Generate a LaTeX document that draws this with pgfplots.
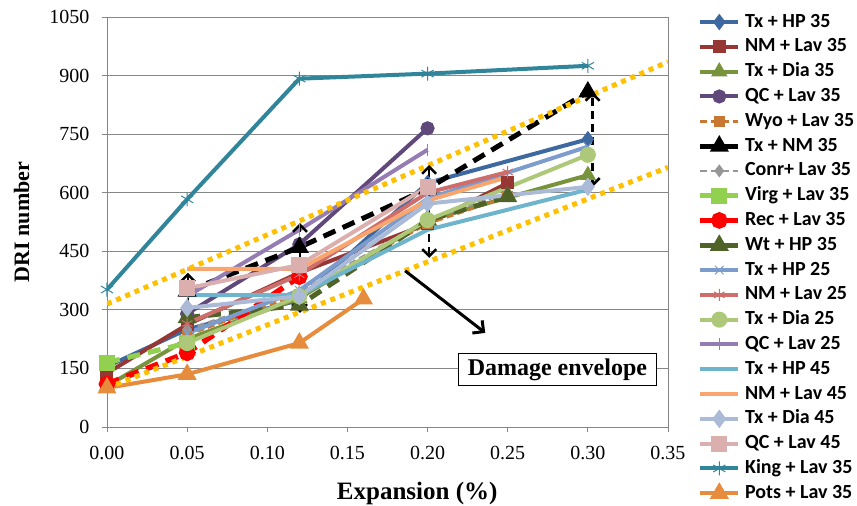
\documentclass[border=0pt]{standalone}
\usepackage{fontspec}
\setmainfont{Liberation Serif}
\newfontfamily\legfont{Carlito}
\usepackage{pgfplots}
\pgfplotsset{compat=1.18}
\usetikzlibrary{arrows.meta}
\definecolor{cA}{RGB}{61,105,160}
\definecolor{cB}{RGB}{150,55,52}
\definecolor{cC}{RGB}{119,147,60}
\definecolor{cD}{RGB}{96,73,122}
\definecolor{cE}{RGB}{200,120,50}
\definecolor{cG}{RGB}{150,150,150}
\definecolor{cH}{RGB}{146,208,80}
\definecolor{cI}{RGB}{255,0,0}
\definecolor{cJ}{RGB}{79,98,40}
\definecolor{cK}{RGB}{124,156,206}
\definecolor{cL}{RGB}{205,110,108}
\definecolor{cM}{RGB}{172,200,120}
\definecolor{cN}{RGB}{149,125,180}
\definecolor{cO}{RGB}{110,180,205}
\definecolor{cP}{RGB}{248,165,110}
\definecolor{cQ}{RGB}{170,186,215}
\definecolor{cR}{RGB}{220,175,175}
\definecolor{cS}{RGB}{49,133,155}
\definecolor{cT}{RGB}{230,140,60}
\definecolor{envy}{RGB}{255,192,0}
\definecolor{frame}{RGB}{134,134,134}
\begin{document}
\begin{tikzpicture}
\path[use as bounding box] (-107pt,-79pt) rectangle (750pt,427pt);
\begin{axis}[
  width=561pt, height=410pt, scale only axis,
  xmin=0, xmax=0.35, ymin=0, ymax=1050,
  xtick={0,0.05,0.1,0.15,0.2,0.25,0.3,0.35},
  xticklabels={0.00,0.05,0.10,0.15,0.20,0.25,0.30,0.35},
  ytick={0,150,300,450,600,750,900,1050},
  /pgf/number format/assume math mode=true,
  /pgf/number format/1000 sep={},
  tick label style={font=\fontsize{20}{22}\selectfont},
  xticklabel style={yshift=-11pt},
  yticklabel style={xshift=-9pt},
  tick align=outside, xtick pos=left, ytick pos=left,
  major tick length=5pt,
  every tick/.style={frame, line width=0.8pt},
  axis line style={frame, line width=0.8pt},
  ymajorgrids, major grid style={frame, line width=0.8pt},
  xlabel={\textbf{Expansion (\%)}},
  ylabel={\textbf{DRI number}},
  label style={font=\fontsize{22}{24}\selectfont},
  xlabel style={at={(axis description cs:0.553,-0.161)}, anchor=center, font=\fontsize{25}{27}\selectfont},
  ylabel style={at={(axis description cs:-0.152,0.5)}, anchor=center},
  legend style={at={(axis description cs:1.047,1.015)}, anchor=north west,
    draw=none, fill=none, font=\legfont\bfseries\fontsize{20}{22}\selectfont,
    nodes={inner sep=0pt, text height=14pt, text depth=4pt},
    row sep=6.8pt, column sep=4pt},
  legend cell align=left,
  legend image code/.code={\draw[mark repeat=2,mark phase=2] plot coordinates {(0pt,0pt)(19pt,0pt)(38pt,0pt)};},
  every axis plot/.append style={line width=4pt, mark options={solid}},
  legsolid/.style={legend image code/.code={\draw[solid,mark repeat=2,mark phase=2] plot coordinates {(0pt,0pt)(19pt,0pt)(38pt,0pt)};}},
]
\addplot[cA, mark=diamond*, mark size=5pt] coordinates {(0,155)(0.05,250)(0.12,325)(0.2,625)(0.3,737)};
\addlegendentry{Tx + HP 35}
\addplot[cB, mark=square*, mark size=4.5pt] coordinates {(0,138)(0.05,262)(0.12,395)(0.2,520)(0.25,625)};
\addlegendentry{NM + Lav 35}
\addplot[cC, mark=triangle*, mark size=5.5pt] coordinates {(0,105)(0.05,225)(0.12,330)(0.2,530)(0.3,645)};
\addlegendentry{Tx + Dia 35}
\addplot[cD, mark=*, mark size=5pt] coordinates {(0.05,290)(0.12,468)(0.2,765)};
\addlegendentry{QC + Lav 35}
\addplot[cE, line width=2.5pt, dash pattern=on 7pt off 4pt, mark=square*, mark size=4pt] coordinates {(0.05,235)(0.12,340)(0.2,520)(0.25,590)};
\addlegendentry{Wyo + Lav 35}
\addplot[black, legsolid, line width=5pt, dash pattern=on 13pt off 8pt, mark=triangle*, mark size=6pt] coordinates {(0.05,348)(0.12,460)(0.2,610)(0.3,858)};
\addlegendentry{Tx + NM 35}
\addplot[cG, line width=2.5pt, dash pattern=on 7pt off 4pt, mark=diamond*, mark size=4.5pt] coordinates {(0.05,250)(0.12,345)(0.2,530)(0.25,600)};
\addlegendentry{Conr+ Lav 35}
\addplot[cH, legsolid, line width=5pt, dash pattern=on 13pt off 8pt, mark=square*, mark size=5.5pt] coordinates {(0,165)(0.05,215)};
\addlegendentry{Virg + Lav 35}
\addplot[cI, legsolid, line width=5.5pt, dash pattern=on 13pt off 8pt, mark=*, mark size=5.5pt] coordinates {(0,110)(0.05,190)(0.12,385)};
\addlegendentry{Rec + Lav 35}
\addplot[cJ, legsolid, line width=5pt, dash pattern=on 13pt off 8pt, mark=triangle*, mark size=6pt] coordinates {(0.05,280)(0.12,312)(0.2,530)(0.25,590)};
\addlegendentry{Wt + HP 35}
\addplot[cK, mark=x, mark size=6pt, mark options={line width=1pt}] coordinates {(0.05,240)(0.12,350)(0.2,585)(0.3,718)};
\addlegendentry{Tx + HP 25}
\addplot[cL, mark=asterisk, mark size=6pt, mark options={line width=1pt}] coordinates {(0.05,265)(0.12,390)(0.2,600)(0.25,653)};
\addlegendentry{NM + Lav 25}
\addplot[cM, mark=*, mark size=6pt] coordinates {(0.05,215)(0.12,335)(0.2,530)(0.3,697)};
\addlegendentry{Tx + Dia 25}
\addplot[cN, mark=|, mark size=6pt, mark options={line width=1pt}] coordinates {(0.05,335)(0.12,505)(0.2,710)};
\addlegendentry{QC + Lav 25}
\addplot[cO] coordinates {(0.05,338)(0.12,338)(0.2,505)(0.3,608)};
\addlegendentry{Tx + HP 45}
\addplot[cP] coordinates {(0.05,405)(0.12,405)(0.2,580)(0.25,640)};
\addlegendentry{NM + Lav 45}
\addplot[cQ, mark=diamond*, mark size=6pt] coordinates {(0.05,305)(0.12,335)(0.2,572)(0.3,615)};
\addlegendentry{Tx + Dia 45}
\addplot[cR, mark=square*, mark size=6pt] coordinates {(0.05,355)(0.12,415)(0.2,615)};
\addlegendentry{QC + Lav 45}
\addplot[cS, mark=asterisk, mark size=7pt, mark options={line width=1pt}] coordinates {(0,352)(0.05,583)(0.12,892)(0.2,905)(0.3,925)};
\addlegendentry{King + Lav 35}
\addplot[cT, mark=triangle*, mark size=7pt] coordinates {(0,100)(0.05,135)(0.12,215)(0.16,328)};
\addlegendentry{Pots + Lav 35}
% damage envelope lines
\addplot[envy, forget plot, line width=5pt, dash pattern=on 5pt off 5pt] coordinates {(0,315)(0.35,935)};
\addplot[envy, forget plot, line width=5pt, dash pattern=on 5pt off 5pt] coordinates {(0,100)(0.35,665)};
% vertical double arrows
\draw[black, line width=2.5pt, dash pattern=on 8pt off 5pt, {Straight Barb[length=7pt,width=14pt]}-{Straight Barb[length=7pt,width=14pt]}] (axis cs:0.0505,170) -- (axis cs:0.0505,395);
\draw[black, line width=2.5pt, dash pattern=on 8pt off 5pt, {Straight Barb[length=7pt,width=14pt]}-{Straight Barb[length=7pt,width=14pt]}] (axis cs:0.1204,292) -- (axis cs:0.1204,522);
\draw[black, line width=2.5pt, dash pattern=on 8pt off 5pt, {Straight Barb[length=7pt,width=14pt]}-{Straight Barb[length=7pt,width=14pt]}] (axis cs:0.201,433) -- (axis cs:0.201,671);
\draw[black, line width=2.5pt, dash pattern=on 8pt off 5pt, {Straight Barb[length=7pt,width=14pt]}-{Straight Barb[length=7pt,width=14pt]}] (axis cs:0.303,615) -- (axis cs:0.303,858);
\draw[black, line width=3pt, -{Straight Barb[length=8pt,width=16pt]}] (axis cs:0.186,400) -- (axis cs:0.236,241);
\node[draw=black, line width=0.8pt, fill=white, font=\bfseries\fontsize{24}{26}\selectfont, inner xsep=9pt, inner ysep=5pt] at (axis cs:0.281,147) {Damage envelope};
\end{axis}
\end{tikzpicture}
\end{document}
